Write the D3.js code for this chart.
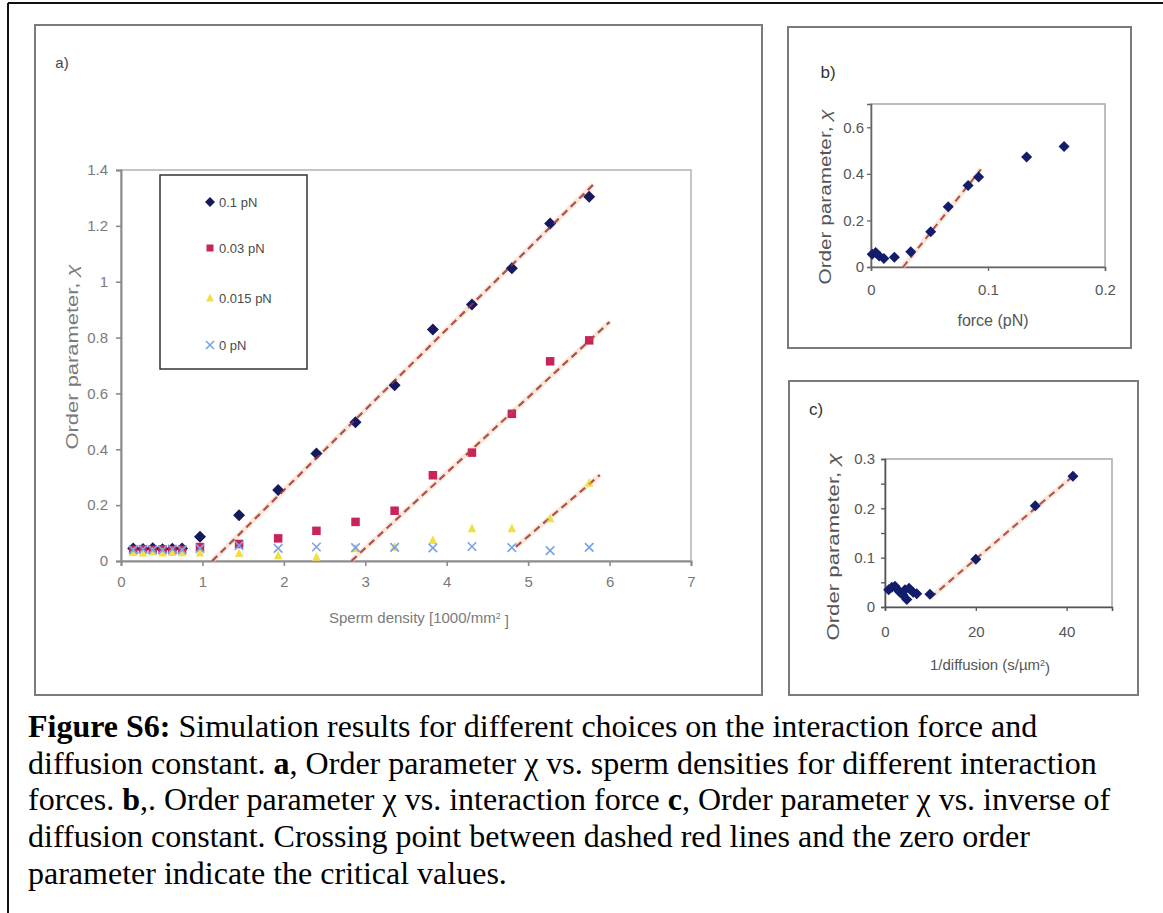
<!DOCTYPE html>
<html>
<head>
<meta charset="utf-8">
<script src="https://cdn.jsdelivr.net/npm/d3@7"></script>
<style>
  html, body { margin: 0; padding: 0; background: #fff; }
  svg { display: block; }
</style>
</head>
<body>
<svg id="fig" width="1163" height="913"></svg>
<script>
// ---------- Panel a: order parameter vs. sperm density ----------
const densities = [0.15, 0.27, 0.39, 0.51, 0.63, 0.75, 0.97, 1.45, 1.93, 2.40, 2.88, 3.36, 3.83, 4.31, 4.80, 5.27, 5.75];
const force01   = [0.045, 0.043, 0.046, 0.042, 0.044, 0.045, 0.087, 0.164, 0.254, 0.385, 0.497, 0.629, 0.829, 0.918, 1.048, 1.208, 1.304];
const force003  = [0.040, 0.042, 0.040, 0.041, 0.039, 0.040, 0.050, 0.061, 0.081, 0.108, 0.140, 0.180, 0.307, 0.388, 0.527, 0.715, 0.790];
const force0015 = [0.032, 0.030, 0.033, 0.030, 0.032, 0.031, 0.030, 0.028, 0.020, 0.015, 0.045, 0.050, 0.075, 0.117, 0.117, 0.152, 0.280];
const force0    = [0.040, 0.042, 0.040, 0.040, 0.043, 0.040, 0.045, 0.055, 0.045, 0.050, 0.048, 0.049, 0.047, 0.052, 0.048, 0.037, 0.049];
const seriesNamesA = ["0.1 pN", "0.03 pN", "0.015 pN", "0 pN"];
// linear fits: slope, zero crossing, drawn x-range
const fitSlopesA = [0.288, 0.270, 0.249];
const fitZerosA  = [1.12, 2.83, 4.645];
const fitStartA  = [1.12, 2.83, 4.85];
const fitEndA    = [5.80, 6.00, 5.88];
const xTicksA = [0, 1, 2, 3, 4, 5, 6, 7];
const yTicksA = [0, 0.2, 0.4, 0.6, 0.8, 1.0, 1.2, 1.4];

// ---------- Panel b: order parameter vs. force ----------
const forceB = [0.001, 0.004, 0.007, 0.011, 0.020, 0.034, 0.051, 0.066, 0.083, 0.092, 0.133, 0.165];
const chiB   = [0.055, 0.062, 0.047, 0.037, 0.042, 0.065, 0.151, 0.259, 0.350, 0.386, 0.472, 0.518];
const fitSlopeB = 6.3, fitZeroB = 0.0274, fitStartB = 0.0274, fitEndB = 0.094;
const xTicksB = [0, 0.1, 0.2];
const yTicksB = [0, 0.2, 0.4, 0.6];

// ---------- Panel c: order parameter vs. inverse diffusion ----------
const invDiffC = [0.8, 1.5, 2.2, 2.8, 3.3, 3.9, 4.4, 4.8, 5.3, 6.2, 7.0, 9.9, 20.0, 33.1, 41.4];
const chiC     = [0.035, 0.040, 0.042, 0.035, 0.030, 0.025, 0.035, 0.015, 0.038, 0.030, 0.027, 0.026, 0.097, 0.205, 0.265];
const fitSlopeC = 0.00785, fitZeroC = 7.6, fitStartC = 10, fitEndC = 42;
const xTicksC = [0, 20, 40];
const yTicksC = [0, 0.05, 0.1, 0.15, 0.2, 0.25, 0.3];
const yLabelsC = [0, 0.1, 0.2, 0.3];

const captionLines = [
  [["b", "Figure S6:"], ["n", " Simulation results for different choices on the interaction force and"]],
  [["n", "diffusion constant. "], ["b", "a"], ["n", ", Order parameter χ vs. sperm densities for different interaction"]],
  [["n", "forces. "], ["b", "b"], ["n", ",. Order parameter χ vs. interaction force "], ["b", "c"], ["n", ", Order parameter χ vs. inverse of"]],
  [["n", "diffusion constant. Crossing point between dashed red lines and the zero order"]],
  [["n", "parameter indicate the critical values."]]
];

// ---------- styles ----------
const SANS = "'Liberation Sans', Arial, sans-serif";
const SERIF = "'Liberation Serif', 'Times New Roman', serif";
const colA = ["#17195e", "#c8245a", "#f0df45", "#78a2e4"];
const navy = "#121d6b";
const fitColor = "#b0514a";

const svg = d3.select("#fig");

// outer frame of the figure page
svg.append("line").attr("x1", 8).attr("y1", 3).attr("x2", 1163).attr("y2", 3)
  .attr("stroke", "#111").attr("stroke-width", 2);
svg.append("line").attr("x1", 8).attr("y1", 3).attr("x2", 8).attr("y2", 913)
  .attr("stroke", "#111").attr("stroke-width", 2);

function panelBox(x0, y0, x1, y1) {
  svg.append("rect").attr("x", x0).attr("y", y0).attr("width", x1 - x0).attr("height", y1 - y0)
    .attr("fill", "#fff").attr("stroke", "#7b7b7b").attr("stroke-width", 2);
}
panelBox(35, 25, 762, 695);
panelBox(788, 27, 1131, 348);
panelBox(789, 381, 1138, 695);

// marker shapes
function diamond(g, x, y, r, color) {
  g.append("path").attr("d", `M${x},${y - r}L${x + r},${y}L${x},${y + r}L${x - r},${y}Z`).attr("fill", color);
}
function square(g, x, y, s, color) {
  g.append("rect").attr("x", x - s / 2).attr("y", y - s / 2).attr("width", s).attr("height", s).attr("fill", color);
}
function triangle(g, x, y, s, color) {
  const h = s * 0.9;
  g.append("path").attr("d", `M${x},${y - h / 2 - 1}L${x + s / 2},${y + h / 2}L${x - s / 2},${y + h / 2}Z`).attr("fill", color);
}
function cross(g, x, y, s, color) {
  const r = s / 2;
  g.append("path").attr("d", `M${x - r},${y - r}L${x + r},${y + r}M${x - r},${y + r}L${x + r},${y - r}`)
    .attr("stroke", color).attr("stroke-width", 1.6).attr("fill", "none");
}
function fitLine(g, xs, ys, x0, x1, slope, zero) {
  const pts = [[x0, slope * (x0 - zero)], [x1, slope * (x1 - zero)]];
  const gen = d3.line().x(d => xs(d[0])).y(d => ys(d[1]));
  g.append("path").attr("d", gen(pts)).attr("stroke", "#f4cfb4").attr("stroke-width", 5)
    .attr("stroke-opacity", 0.5).attr("fill", "none");
  g.append("path").attr("d", gen(pts)).attr("stroke", fitColor).attr("stroke-width", 2)
    .attr("stroke-dasharray", "7 5").attr("fill", "none");
}
function styleAxis(sel, lineColor, textColor, size, width) {
  sel.selectAll(".domain").attr("stroke", lineColor).attr("stroke-width", width);
  sel.selectAll(".tick line").attr("stroke", lineColor).attr("stroke-width", width * 0.8);
  sel.selectAll(".tick text").attr("fill", textColor).style("font-family", SANS).style("font-size", size + "px");
}
const numFmt = d => String(+d.toFixed(2));

// ================= Panel a =================
const xA = d3.scaleLinear([0, 7], [121, 691]);
const yA = d3.scaleLinear([0, 1.4], [561, 170]);
const gA = svg.append("g");
gA.append("rect").attr("x", xA(0)).attr("y", yA(1.4)).attr("width", xA(7) - xA(0)).attr("height", yA(0) - yA(1.4))
  .attr("fill", "none").attr("stroke", "#c6c6c6").attr("stroke-width", 2);
const axA_x = gA.append("g").attr("transform", `translate(0,${yA(0)})`)
  .call(d3.axisBottom(xA).tickValues(xTicksA).tickSize(5).tickPadding(10).tickFormat(numFmt));
styleAxis(axA_x, "#8c8c8c", "#7a7a7a", 15, 2);
const axA_y = gA.append("g").attr("transform", `translate(${xA(0)},0)`)
  .call(d3.axisLeft(yA).tickValues(yTicksA).tickSize(5).tickPadding(8).tickFormat(numFmt));
styleAxis(axA_y, "#8c8c8c", "#7a7a7a", 15, 2);

const seriesA = [force01, force003, force0015, force0];
fitSlopesA.forEach((s, i) => fitLine(gA, xA, yA, fitStartA[i], fitEndA[i], s, fitZerosA[i]));
seriesA.forEach((vals, si) => {
  vals.forEach((v, i) => {
    const px = xA(densities[i]), py = yA(v);
    if (si === 0) diamond(gA, px, py, 6, colA[0]);
    else if (si === 1) square(gA, px, py, 8.5, colA[1]);
    else if (si === 2) triangle(gA, px, py, 8.5, colA[2]);
    else cross(gA, px, py, 8.5, colA[3]);
  });
});
// fit lines shown faintly over the markers they pass through
fitSlopesA.forEach((s, i) => {
  const pts = [[fitStartA[i], s * (fitStartA[i] - fitZerosA[i])], [fitEndA[i], s * (fitEndA[i] - fitZerosA[i])]];
  gA.append("path").attr("d", d3.line().x(d => xA(d[0])).y(d => yA(d[1]))(pts))
    .attr("stroke", fitColor).attr("stroke-width", 2).attr("stroke-dasharray", "7 5")
    .attr("stroke-opacity", 0.55).attr("fill", "none");
});

// legend
const legY = [202, 248, 298, 345];
gA.append("rect").attr("x", 160).attr("y", 175).attr("width", 147).attr("height", 194)
  .attr("fill", "#fff").attr("stroke", "#333").attr("stroke-width", 1.5);
seriesNamesA.forEach((name, i) => {
  const y = legY[i];
  if (i === 0) diamond(gA, 210, y, 5, colA[0]);
  else if (i === 1) square(gA, 210, y, 7, colA[1]);
  else if (i === 2) triangle(gA, 210, y, 8, colA[2]);
  else cross(gA, 210, y, 8, colA[3]);
  gA.append("text").attr("x", 219).attr("y", y).attr("dy", "0.35em").text(name)
    .style("font-family", SANS).style("font-size", "13px").attr("fill", "#4a4a4a");
});

gA.append("text").attr("x", 62).attr("y", 63).attr("dy", "0.35em").attr("text-anchor", "middle").text("a)")
  .style("font-family", SANS).style("font-size", "15px").attr("fill", "#444");
const yLabA = gA.append("text").attr("transform", "translate(72,357) rotate(-90)").attr("text-anchor", "middle")
  .attr("dy", "0.35em").style("font-family", SANS).style("font-size", "16px").attr("fill", "#7a7a7a")
  .attr("textLength", 185).attr("lengthAdjust", "spacingAndGlyphs");
yLabA.append("tspan").text("Order parameter, ");
yLabA.append("tspan").text("χ").style("font-style", "italic");
const xLabA = gA.append("text").attr("x", 419).attr("y", 618).attr("dy", "0.35em").attr("text-anchor", "middle")
  .style("font-family", SANS).style("font-size", "15px").attr("fill", "#7a7a7a");
xLabA.append("tspan").text("Sperm density [1000/mm");
xLabA.append("tspan").text("2").attr("dy", "-0.45em").style("font-size", "9px");
xLabA.append("tspan").text(" ]").attr("dy", "0.45em");

// ================= Panel b =================
const xB = d3.scaleLinear([0, 0.2], [871, 1105]);
const yB = d3.scaleLinear([0, 0.7], [267, 104]);
const gB = svg.append("g");
gB.append("rect").attr("x", xB(0)).attr("y", yB(0.7)).attr("width", xB(0.2) - xB(0)).attr("height", yB(0) - yB(0.7))
  .attr("fill", "none").attr("stroke", "#a8a8a8").attr("stroke-width", 1.5);
const axB_x = gB.append("g").attr("transform", `translate(0,${yB(0)})`)
  .call(d3.axisBottom(xB).tickValues(xTicksB).tickSize(4).tickPadding(13).tickFormat(numFmt));
styleAxis(axB_x, "#666", "#555", 15, 1.6);
const axB_y = gB.append("g").attr("transform", `translate(${xB(0)},0)`)
  .call(d3.axisLeft(yB).tickValues(yTicksB).tickSize(4).tickPadding(3).tickFormat(numFmt));
styleAxis(axB_y, "#666", "#555", 15, 1.6);
fitLine(gB, xB, yB, fitStartB, fitEndB, fitSlopeB, fitZeroB);
forceB.forEach((f, i) => diamond(gB, xB(f), yB(chiB[i]), 5.5, navy));
gB.append("text").attr("x", 828).attr("y", 72).attr("dy", "0.35em").attr("text-anchor", "middle").text("b)")
  .style("font-family", SANS).style("font-size", "17px").attr("fill", "#333");
const yLabB = gB.append("text").attr("transform", "translate(825,197) rotate(-90)").attr("text-anchor", "middle")
  .attr("dy", "0.35em").style("font-family", SANS).style("font-size", "16px").attr("fill", "#555")
  .attr("textLength", 175).attr("lengthAdjust", "spacingAndGlyphs");
yLabB.append("tspan").text("Order parameter, ");
yLabB.append("tspan").text("χ").style("font-style", "italic");
gB.append("text").attr("x", 993).attr("y", 320).attr("dy", "0.35em").attr("text-anchor", "middle").text("force (pN)")
  .style("font-family", SANS).style("font-size", "16px").attr("fill", "#555");

// ================= Panel c =================
const xC = d3.scaleLinear([0, 50], [885, 1112]);
const yC = d3.scaleLinear([0, 0.3], [607, 459]);
const gC = svg.append("g");
gC.append("rect").attr("x", xC(0)).attr("y", yC(0.3)).attr("width", xC(50) - xC(0)).attr("height", yC(0) - yC(0.3))
  .attr("fill", "none").attr("stroke", "#a8a8a8").attr("stroke-width", 1.5);
const axC_x = gC.append("g").attr("transform", `translate(0,${yC(0)})`)
  .call(d3.axisBottom(xC).tickValues(xTicksC).tickSize(4).tickPadding(15).tickFormat(numFmt));
styleAxis(axC_x, "#555", "#555", 15, 1.6);
const axC_y = gC.append("g").attr("transform", `translate(${xC(0)},0)`)
  .call(d3.axisLeft(yC).tickValues(yTicksC).tickSize(4).tickPadding(6)
    .tickFormat(d => yLabelsC.some(v => Math.abs(v - d) < 1e-9) ? numFmt(d) : ""));
styleAxis(axC_y, "#555", "#555", 15, 1.6);
fitLine(gC, xC, yC, fitStartC, fitEndC, fitSlopeC, fitZeroC);
invDiffC.forEach((v, i) => diamond(gC, xC(v), yC(chiC[i]), 5.5, navy));
gC.append("text").attr("x", 816).attr("y", 409).attr("dy", "0.35em").attr("text-anchor", "middle").text("c)")
  .style("font-family", SANS).style("font-size", "17px").attr("fill", "#333");
const yLabC = gC.append("text").attr("transform", "translate(833,547) rotate(-90)").attr("text-anchor", "middle")
  .attr("dy", "0.35em").style("font-family", SANS).style("font-size", "16px").attr("fill", "#555")
  .attr("textLength", 187).attr("lengthAdjust", "spacingAndGlyphs");
yLabC.append("tspan").text("Order parameter, ");
yLabC.append("tspan").text("χ").style("font-style", "italic");
const xLabC = gC.append("text").attr("x", 990).attr("y", 665).attr("dy", "0.35em").attr("text-anchor", "middle")
  .style("font-family", SANS).style("font-size", "15px").attr("fill", "#555");
xLabC.append("tspan").text("1/diffusion (s/µm");
xLabC.append("tspan").text("2").attr("dy", "-0.45em").style("font-size", "9px");
xLabC.append("tspan").text(")").attr("dy", "0.45em");

// ================= Caption =================
const capBase = 737, capStep = 36.7;
captionLines.forEach((parts, li) => {
  const t = svg.append("text").attr("x", 28).attr("y", capBase + li * capStep)
    .style("font-family", SERIF).style("font-size", "32px").attr("fill", "#000");
  parts.forEach(([w, s]) => {
    t.append("tspan").text(s).style("font-weight", w === "b" ? "bold" : "normal");
  });
});
</script>
</body>
</html>
